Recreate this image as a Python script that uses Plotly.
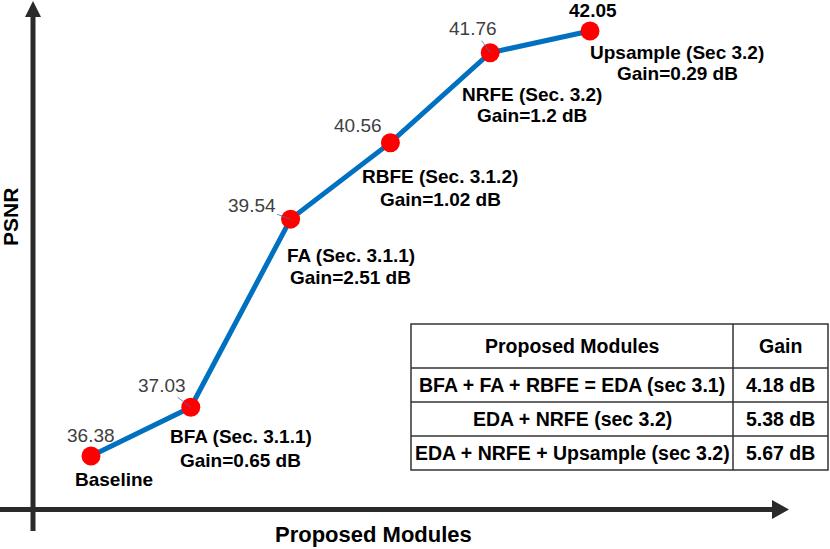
import plotly.graph_objects as go

# ---- data ----
modules = ["Baseline", "BFA (Sec. 3.1.1)", "FA (Sec. 3.1.1)", "RBFE (Sec. 3.1.2)",
           "NRFE (Sec. 3.2)", "Upsample (Sec 3.2)"]
psnr = [36.38, 37.03, 39.54, 40.56, 41.76, 42.05]
gains = [None, "0.65", "2.51", "1.02", "1.2", "0.29"]

table_modules = ["BFA + FA + RBFE = EDA (sec 3.1)", "EDA + NRFE (sec 3.2)",
                 "EDA + NRFE + Upsample (sec 3.2)"]
table_gains = ["4.18 dB", "5.38 dB", "5.67 dB"]
table_header = ["Proposed Modules", "Gain"]

x_title = "Proposed Modules"
y_title = "PSNR"

# ---- style ----
W, H = 830, 549
FONT = "Liberation Sans, Arial, Helvetica, sans-serif"
LINE_BLUE = "#0070C0"
AXIS_COL = "#2a2a2a"
GRID_COL = "#333333"
xs = list(range(len(psnr)))

fig = go.Figure()
fig.add_trace(go.Scatter(
    x=xs, y=psnr, mode="lines+markers",
    line=dict(color=LINE_BLUE, width=5),
    marker=dict(color="#FF0000", size=19, line=dict(width=0)),
    showlegend=False, hoverinfo="skip", cliponaxis=False))

annotations = []
# value labels: (xshift, yshift) or arrow offsets (ax, ay)
value_pos = [("s", 0, 21), ("a", -29, -22), ("a", -39, -14),
             ("s", -32, 17), ("a", -17, -24), ("s", 3, 21)]
for i, v in enumerate(psnr):
    kind, dx, dy = value_pos[i]
    last = i == len(psnr) - 1
    txt = f"<b>{v:.2f}</b>" if last else f"{v:.2f}"
    col = "#000000" if last else "#404040"
    a = dict(x=xs[i], y=v, xref="x", yref="y", text=txt,
             xanchor="center", yanchor="middle",
             font=dict(family=FONT, size=19, color=col))
    if kind == "a":
        a.update(showarrow=True, ax=dx, ay=dy, arrowhead=0, arrowwidth=0.8,
                 arrowcolor="#3a6fc4", standoff=0, startstandoff=0)
    else:
        a.update(showarrow=False, xshift=dx, yshift=dy)
    annotations.append(a)

# module name / gain labels
name_shift = [(23, -23), (50, -29), (60, -36), (50, -34), (42, -42), (87, -21)]
gain_shift = [None, (50, -53), (60, -58), (50, -57), (42, -63), (87, -42)]
for i, name in enumerate(modules):
    nx, ny = name_shift[i]
    annotations.append(dict(x=xs[i], y=psnr[i], xref="x", yref="y",
                            text=f"<b>{name}</b>", showarrow=False,
                            xanchor="center", yanchor="middle",
                            xshift=nx, yshift=ny,
                            font=dict(family=FONT, size=19, color="black")))
    if gains[i] is not None:
        gx, gy = gain_shift[i]
        annotations.append(dict(x=xs[i], y=psnr[i], xref="x", yref="y",
                                text=f"<b>Gain={gains[i]} dB</b>", showarrow=False,
                                xanchor="center", yanchor="middle",
                                xshift=gx, yshift=gy,
                                font=dict(family=FONT, size=19, color="black")))


def px(xp, yp):
    return xp / W, 1 - yp / H


def paper_text(xp, yp, text, size=19, angle=0):
    tx, ty = px(xp, yp)
    return dict(x=tx, y=ty, xref="paper", yref="paper", text=text, showarrow=False,
                xanchor="center", yanchor="middle", textangle=angle,
                font=dict(family=FONT, size=size, color="black"))


# axis titles
annotations.append(paper_text(373, 534, f"<b>{x_title}</b>", size=22))
annotations.append(paper_text(11, 217, f"<b>{y_title}</b>", size=21, angle=-90))

shapes = []
# y axis arrow
x0, y0 = px(33, 531)
x1, y1 = px(33, 16)
shapes.append(dict(type="line", xref="paper", yref="paper", x0=x0, y0=y0, x1=x1, y1=y1,
                   line=dict(color=AXIS_COL, width=5)))
pts = [px(25, 17), px(41, 17), px(33, 1)]
shapes.append(dict(type="path", xref="paper", yref="paper",
                   path="M {} {} L {} {} L {} {} Z".format(*[c for p in pts for c in p]),
                   fillcolor=AXIS_COL, line=dict(width=0)))
# x axis arrow
x0, y0 = px(0, 509.5)
x1, y1 = px(773, 509.5)
shapes.append(dict(type="line", xref="paper", yref="paper", x0=x0, y0=y0, x1=x1, y1=y1,
                   line=dict(color=AXIS_COL, width=5)))
pts = [px(772, 500), px(772, 519), px(789, 509.5)]
shapes.append(dict(type="path", xref="paper", yref="paper",
                   path="M {} {} L {} {} L {} {} Z".format(*[c for p in pts for c in p]),
                   fillcolor=AXIS_COL, line=dict(width=0)))

# ---- table (grid + text) ----
T_LEFT, T_RIGHT, T_DIV = 411, 828, 733
T_TOP, T_HEAD = 324, 368
ROW_H = (470 - 368) / 3
n_rows = len(table_modules)
T_BOTTOM = T_HEAD + n_rows * ROW_H

ax0, ay0 = px(T_LEFT, T_BOTTOM)
ax1, ay1 = px(T_RIGHT, T_TOP)
shapes.append(dict(type="rect", xref="paper", yref="paper", x0=ax0, y0=ay0, x1=ax1, y1=ay1,
                   line=dict(color=GRID_COL, width=1.5), fillcolor="white", layer="below"))
for r in range(n_rows):
    yy = T_HEAD + r * ROW_H
    a0, b0 = px(T_LEFT, yy)
    a1, b1 = px(T_RIGHT, yy)
    shapes.append(dict(type="line", xref="paper", yref="paper", x0=a0, y0=b0, x1=a1, y1=b1,
                       line=dict(color=GRID_COL, width=1.5)))
a0, b0 = px(T_DIV, T_TOP)
a1, b1 = px(T_DIV, T_BOTTOM)
shapes.append(dict(type="line", xref="paper", yref="paper", x0=a0, y0=b0, x1=a1, y1=b1,
                   line=dict(color=GRID_COL, width=1.5)))

col_centers = [(T_LEFT + T_DIV) / 2, (T_DIV + T_RIGHT) / 2]
for c, h in enumerate(table_header):
    annotations.append(paper_text(col_centers[c], (T_TOP + T_HEAD) / 2, f"<b>{h}</b>", size=19.5))
for r in range(n_rows):
    yc = T_HEAD + (r + 0.5) * ROW_H
    for c, val in enumerate([table_modules[r], table_gains[r]]):
        annotations.append(paper_text(col_centers[c], yc, f"<b>{val}</b>", size=19.5))

x_min, x_max = -91 / 99.8, (W - 91) / 99.8
ppd = 425 / (42.05 - 36.38)
y_max = 36.38 + 456 / ppd
y_min = 36.38 - (H - 456) / ppd

fig.update_layout(
    width=W, height=H, margin=dict(l=0, r=0, t=0, b=0),
    paper_bgcolor="white", plot_bgcolor="white",
    xaxis=dict(range=[x_min, x_max], visible=False, domain=[0, 1]),
    yaxis=dict(range=[y_min, y_max], visible=False, domain=[0, 1]),
    annotations=annotations, shapes=shapes, showlegend=False)

fig.write_html("out.html", config={"displayModeBar": False},
               post_script="document.body.style.margin='0';document.body.style.overflow='hidden';")
